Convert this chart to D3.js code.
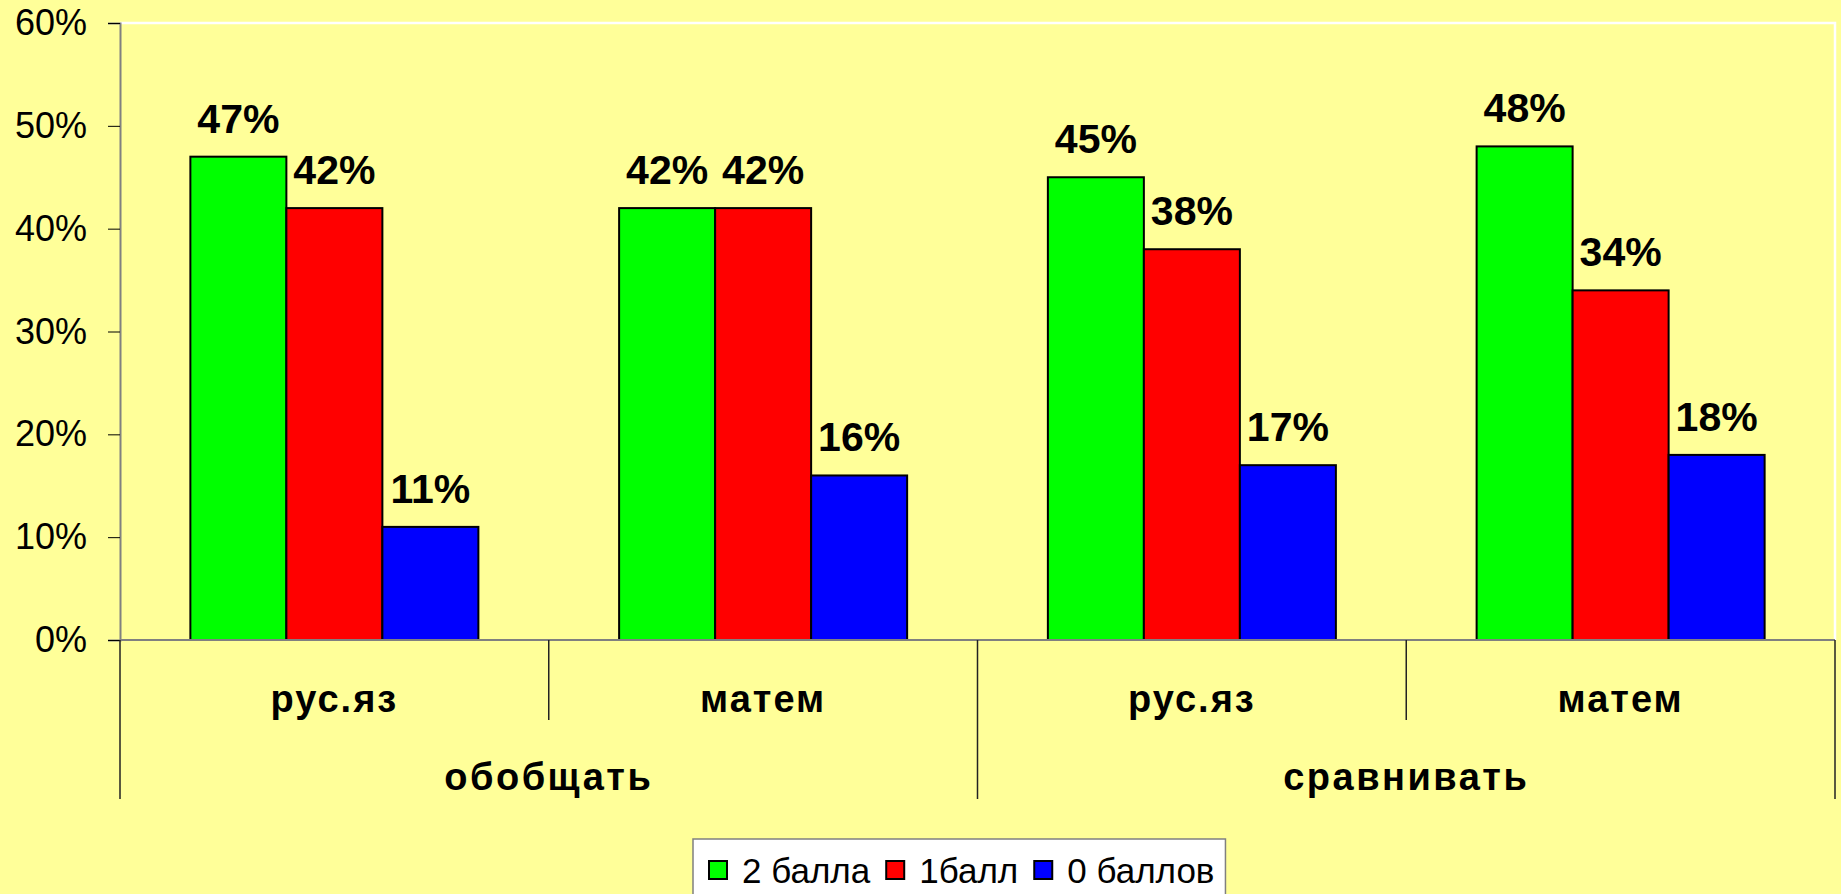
<!DOCTYPE html>
<html>
<head>
<meta charset="utf-8">
<script src="https://cdn.jsdelivr.net/npm/d3@7"></script>
<style>
  html, body { margin: 0; padding: 0; background: #FFFF99; }
  svg { display: block; font-family: Arial, "Liberation Sans", sans-serif; }
</style>
</head>
<body>
<div id="chart"></div>
<script>
// data
const groups = ["обобщать", "сравнивать"];
const subjects = ["рус.яз", "матем", "рус.яз", "матем"];
const subjectGroup = [0, 0, 1, 1];
const seriesNames = ["2 балла", "1балл", "0 баллов"];
const seriesColors = ["#00FF00", "#FF0000", "#0000FF"];
const twoPoints = [47, 42, 45, 48];
const onePoint = [42, 42, 38, 34];
const zeroPoints = [11, 16, 17, 18];
const yTicks = [0, 10, 20, 30, 40, 50, 60];

const series = [twoPoints, onePoint, zeroPoints];

const W = 1841, H = 894;
const plotLeft = 120, plotRight = 1835, plotTop = 23, plotBase = 640;

const svg = d3.select("#chart").append("svg")
  .attr("width", W).attr("height", H);

svg.append("rect").attr("width", W).attr("height", H).attr("fill", "#FFFF99");

const y = d3.scaleLinear().domain([0, 60]).range([plotBase, plotTop]);
const x0 = d3.scaleBand().domain(d3.range(subjects.length)).range([plotLeft, plotRight]).padding(0);
const x1 = d3.scaleBand().domain(d3.range(series.length)).range([0, x0.bandwidth()])
  .paddingInner(0).paddingOuter(0.733);

// plot area border (white, top + right)
svg.append("path")
  .attr("d", `M${plotLeft},${plotTop}H${plotRight}V${plotBase}`)
  .attr("fill", "none").attr("stroke", "#FFFFFF").attr("stroke-width", 2.5);

// y axis
const yAxis = svg.append("g")
  .attr("transform", `translate(${plotLeft},0)`)
  .call(d3.axisLeft(y).tickValues(yTicks).tickSize(12).tickPadding(21).tickFormat(d => d + "%"));
yAxis.select(".domain").attr("stroke", "#808080").attr("stroke-width", 2);
yAxis.selectAll(".tick line").attr("stroke", "#000").attr("stroke-width", 1);
yAxis.selectAll(".tick text")
  .attr("font-size", 36).attr("font-family", "Arial, 'Liberation Sans', sans-serif")
  .attr("fill", "#000");

// bars
const cat = svg.selectAll(".cat")
  .data(subjects.map((s, i) => i)).enter()
  .append("g")
  .attr("class", "cat")
  .attr("transform", i => `translate(${x0(i)},0)`);

cat.selectAll("rect")
  .data(i => series.map((s, k) => ({ k, v: s[i] }))).enter()
  .append("rect")
  .attr("x", d => x1(d.k))
  .attr("y", d => y(d.v))
  .attr("width", x1.bandwidth())
  .attr("height", d => plotBase - y(d.v))
  .attr("fill", d => seriesColors[d.k])
  .attr("stroke", "#000")
  .attr("stroke-width", 2);

cat.selectAll("text.lbl")
  .data(i => series.map((s, k) => ({ k, v: s[i] }))).enter()
  .append("text")
  .attr("class", "lbl")
  .attr("x", d => x1(d.k) + x1.bandwidth() / 2)
  .attr("y", d => y(d.v) - 24)
  .attr("text-anchor", "middle")
  .attr("font-size", 41)
  .attr("font-weight", "bold")
  .text(d => d.v + "%");

// zero line
svg.append("line")
  .attr("x1", plotLeft).attr("x2", plotRight)
  .attr("y1", plotBase).attr("y2", plotBase)
  .attr("stroke", "#808080").attr("stroke-width", 2);

// category separators below axis
const seps = d3.range(subjects.length + 1);
svg.selectAll(".sep")
  .data(seps).enter()
  .append("line")
  .attr("class", "sep")
  .attr("x1", i => i < subjects.length ? x0(i) : plotRight)
  .attr("x2", i => i < subjects.length ? x0(i) : plotRight)
  .attr("y1", plotBase)
  .attr("y2", i => (i % 2 === 0) ? 799 : 720)
  .attr("stroke", "#222").attr("stroke-width", 1.5);

svg.selectAll(".subj")
  .data(subjects).enter()
  .append("text")
  .attr("class", "subj")
  .attr("x", (d, i) => x0(i) + x0.bandwidth() / 2)
  .attr("y", 712)
  .attr("text-anchor", "middle")
  .attr("font-size", 38)
  .attr("font-weight", "bold")
  .attr("letter-spacing", 2)
  .text(d => d);

svg.selectAll(".grp")
  .data(groups).enter()
  .append("text")
  .attr("class", "grp")
  .attr("x", (d, g) => {
    const idx = subjects.map((s, i) => i).filter(i => subjectGroup[i] === g);
    return (x0(idx[0]) + x0(idx[idx.length - 1]) + x0.bandwidth()) / 2;
  })
  .attr("y", 790)
  .attr("text-anchor", "middle")
  .attr("font-size", 38)
  .attr("font-weight", "bold")
  .attr("letter-spacing", 2.5)
  .text(d => d);

// legend
const legend = svg.append("g");
const legBox = legend.append("rect")
  .attr("x", 693).attr("y", 839).attr("height", 80)
  .attr("fill", "#FFFFFF").attr("stroke", "#808080").attr("stroke-width", 1.5);
let lx = 709, textEnd = 0;
seriesNames.forEach((name, k) => {
  legend.append("rect")
    .attr("x", lx).attr("y", 861).attr("width", 18).attr("height", 18)
    .attr("fill", seriesColors[k]).attr("stroke", "#000").attr("stroke-width", 2);
  const t = legend.append("text")
    .attr("x", lx + 33).attr("y", 883)
    .attr("font-size", 35)
    .text(name);
  textEnd = lx + 33 + t.node().getComputedTextLength();
  lx = textEnd + 16;
});
legBox.attr("width", textEnd + 11 - 693);
</script>
</body>
</html>
